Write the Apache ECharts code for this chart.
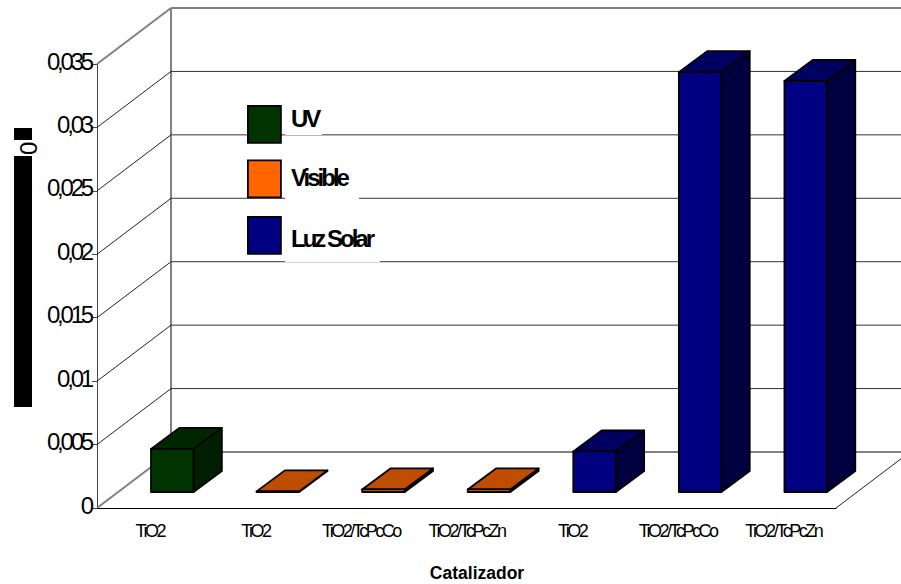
<!DOCTYPE html>
<html>
<head>
<meta charset="utf-8">
<style>
  html, body { margin: 0; padding: 0; background: #fff; }
  #chart { width: 901px; height: 584px; overflow: hidden; }
  /* Condensed label typography, one rule per text role */
  text[style*="24px"] { letter-spacing: -3.2px; }
  text[style*="18px"] { letter-spacing: -2.5px; }
  text[style*="bold 24px"] { letter-spacing: -3px; }
</style>
<script src="https://cdn.jsdelivr.net/npm/echarts@6/dist/echarts.min.js"></script>
</head>
<body>
<div id="chart"></div>
<script>
const categories = ['TiO2', 'TiO2', 'TiO2/TcPcCo', 'TiO2/TcPcZn', 'TiO2', 'TiO2/TcPcCo', 'TiO2/TcPcZn'];
const seriesNames = ['UV', 'Visible', 'Luz Solar'];
const yTicks = [0, 0.005, 0.01, 0.015, 0.02, 0.025, 0.03, 0.035];
const yTickLabels = ['0', '0,005', '0,01', '0,015', '0,02', '0,025', '0,03', '0,035'];
const uvValues = [0.0034, null, null, null, null, null, null];
const visibleValues = [null, 0.00005, 0.0002, 0.0002, null, null, null];
const solarValues = [null, null, null, null, 0.0032, 0.0331, 0.0324];

// Oblique projection of the chart box and of the columns standing inside it
const WALL_DX = 74, WALL_DY = 56;
const BAR_SHIFT_X = 22.5, BAR_SHIFT_Y = 16;
const BAR_DX = 28.3, BAR_DY = 21;
const BAR_WIDTH_RATIO = 0.403;
const FONT = '"Liberation Sans", Arial, sans-serif';
const EDGE_GRAY = '#808080';

function line(x1, y1, x2, y2, stroke, lineWidth) {
  return { type: 'line', shape: { x1, y1, x2, y2 }, style: { stroke, lineWidth, fill: null } };
}

// One tick of the box: diagonal on the left wall plus its line on the back wall
function renderWall(params, api) {
  const value = api.value(1);
  const box = params.coordSys;
  const y = api.coord([0, value])[1];
  const left = box.x, right = box.x + box.width;
  const isEdge = value === yTicks[0] || value === yTicks[yTicks.length - 1];
  const stroke = isEdge ? EDGE_GRAY : '#333';
  const width = isEdge ? 2 : 1;
  const children = [
    line(left, y, left + WALL_DX, y - WALL_DY, isEdge ? EDGE_GRAY : '#222', width),
    line(left + WALL_DX, y - WALL_DY, right + WALL_DX, y - WALL_DY, stroke, width)
  ];
  if (value === yTicks[0]) {
    const top = api.coord([0, yTicks[yTicks.length - 1]])[1] - WALL_DY;
    children.push(line(left + WALL_DX, y - WALL_DY, left + WALL_DX, top, EDGE_GRAY, 2));
    children.push(line(right, y, right + WALL_DX, y - WALL_DY, '#222', 1));
  }
  return { type: 'group', children };
}

// Column drawn as a front face, a top face and a right side face
function renderColumn(front, top, side) {
  return function (params, api) {
    const index = api.value(0);
    const value = api.value(1);
    const band = api.size([1, 0])[0];
    const w = band * BAR_WIDTH_RATIO;
    const x = api.coord([index, 0])[0] + BAR_SHIFT_X - w / 2;
    const y0 = api.coord([index, 0])[1] - BAR_SHIFT_Y;
    const y1 = api.coord([index, value])[1] - BAR_SHIFT_Y;
    const edge = { stroke: '#000', lineWidth: 1.8, lineJoin: 'round' };
    const face = (points, fill) => ({
      type: 'polygon', shape: { points }, style: Object.assign({ fill }, edge)
    });
    return {
      type: 'group',
      children: [
        face([[x + w, y0], [x + w + BAR_DX, y0 - BAR_DY], [x + w + BAR_DX, y1 - BAR_DY], [x + w, y1]], side),
        face([[x, y1], [x + BAR_DX, y1 - BAR_DY], [x + w + BAR_DX, y1 - BAR_DY], [x + w, y1]], top),
        face([[x, y0], [x + w, y0], [x + w, y1], [x, y1]], front)
      ]
    };
  };
}

function points(values) {
  return values.map((v, i) => (v === null ? null : [i, v])).filter(Boolean);
}

function columnSeries(name, values, front, top, side) {
  return {
    name, type: 'custom', z: 3,
    itemStyle: { color: front },
    data: points(values),
    renderItem: renderColumn(front, top, side)
  };
}

// Legend swatch; its caption sits lower than the swatch centre, so it is placed apart
function legendSwatch(name, top) {
  return {
    data: [{ name, icon: 'rect' }],
    left: 247, top, padding: 0,
    itemWidth: 33, itemHeight: 37,
    selectedMode: false,
    formatter: () => '',
    itemStyle: { borderColor: '#000', borderWidth: 1.8 }
  };
}

// Caption with a white plate that interrupts the gridlines behind it
function legendCaption(text, y, boxWidth, padding) {
  return {
    type: 'text', x: 285, y, z: 6,
    style: {
      text, font: 'bold 24px ' + FONT, fill: '#000',
      backgroundColor: '#fff', width: boxWidth, padding,
      align: 'left', verticalAlign: 'top'
    }
  };
}

const chart = echarts.init(document.getElementById('chart'), null, { renderer: 'svg' });
chart.setOption({
  animation: false,
  backgroundColor: '#fff',
  grid: { left: 97, right: 65, top: 64, bottom: 76, containLabel: false, outerBoundsMode: 'none' },
  xAxis: {
    type: 'category',
    data: categories,
    name: 'Catalizador',
    nameLocation: 'middle',
    nameGap: 56,
    nameTextStyle: { fontFamily: FONT, fontSize: 17.5, fontWeight: 'bold', color: '#000', padding: [0, 0, 0, 21] },
    axisLine: { lineStyle: { color: '#000', width: 1 } },
    axisTick: { length: 8, lineStyle: { color: '#666', width: 1 } },
    axisLabel: { interval: 0, margin: 14, fontFamily: FONT, fontSize: 18, color: '#000' },
    splitLine: { show: false }
  },
  yAxis: {
    type: 'value',
    min: 0, max: 0.035, interval: 0.005,
    axisLine: { show: true, lineStyle: { color: '#444', width: 1 } },
    axisTick: { show: true, length: 5, lineStyle: { color: '#444', width: 1 } },
    axisLabel: {
      margin: 6, fontFamily: FONT, fontSize: 24, color: '#000',
      verticalAlign: 'bottom', padding: [0, 0, -9, 0],
      formatter: (value, index) => yTickLabels[index]
    },
    splitLine: { show: false }
  },
  legend: [
    legendSwatch(seriesNames[0], 105),
    legendSwatch(seriesNames[1], 159.5),
    legendSwatch(seriesNames[2], 216)
  ],
  graphic: [
    { type: 'rect', z: 6, shape: { x: 14, y: 128, width: 18, height: 12 }, style: { fill: '#000' } },
    { type: 'rect', z: 6, shape: { x: 14, y: 156, width: 18, height: 251 }, style: { fill: '#000' } },
    {
      type: 'text', x: 28.5, y: 150, z: 6, rotation: Math.PI / 2,
      style: { text: '0', font: '24px ' + FONT, fill: '#000', align: 'center', verticalAlign: 'middle' }
    },
    legendCaption(seriesNames[0], 106, 31, [0, 0, 5, 6]),
    legendCaption(seriesNames[1], 159, 68, [6, 0, 10, 6]),
    legendCaption(seriesNames[2], 220, 89, [6, 0, 12, 6])
  ],
  series: [
    {
      name: 'box', type: 'custom', z: 1, silent: true,
      data: yTicks.map(v => [0, v]),
      renderItem: renderWall
    },
    columnSeries(seriesNames[0], uvValues, '#003300', '#002600', '#001f00'),
    columnSeries(seriesNames[1], visibleValues, '#ff6600', '#bf4d00', '#803300'),
    columnSeries(seriesNames[2], solarValues, '#000080', '#000060', '#000040')
  ]
});
</script>
</body>
</html>
